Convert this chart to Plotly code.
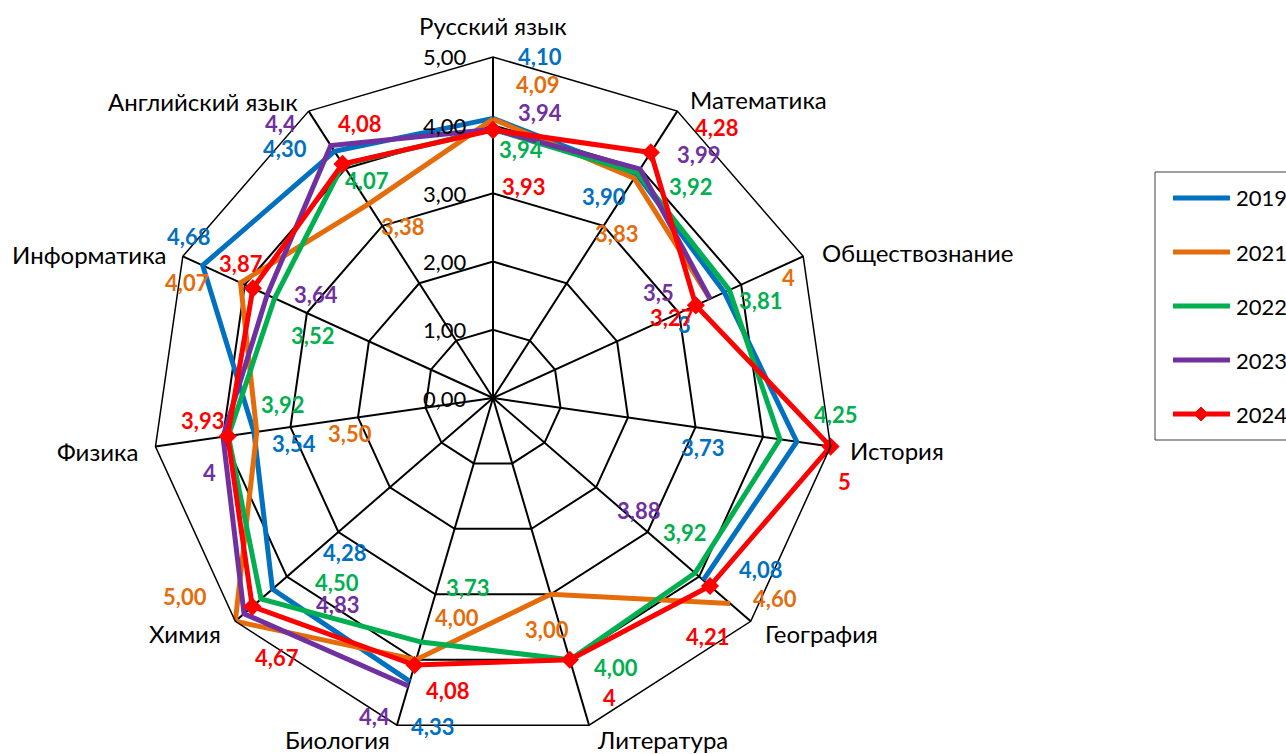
import plotly.graph_objects as go

# ---- data -------------------------------------------------------------
categories = ["Русский язык", "Математика", "Обществознание", "История", "География",
              "Литература", "Биология", "Химия", "Физика", "Информатика", "Английский язык"]

years = ["2019", "2021", "2022", "2023", "2024"]
colors = ["#0070C0", "#E46C0A", "#00B050", "#7030A0", "#FF0000"]

# average marks per subject (None = no result that year)
v2019 = [4.10, 3.90, 3.73, 4.50, 4.08, None, 4.33, 4.28, 3.54, 4.68, 4.30]
v2021 = [4.09, 3.83, 3.50, None, 4.60, 3.00, 4.00, 5.00, 3.50, 4.07, 3.38]
v2022 = [3.94, 3.92, 3.81, 4.25, 3.92, 4.00, 3.73, 4.50, 3.92, 3.52, 4.07]
v2023 = [3.94, 3.99, 3.50, None, 3.88, None, 4.40, 4.83, 4.00, 3.64, 4.40]
v2024 = [3.93, 4.28, 3.27, 5.00, 4.21, 4.00, 4.08, 4.67, 3.93, 3.87, 4.08]
series = [v2019, v2021, v2022, v2023, v2024]

# data-label texts as printed on the sheet (None = no label)
t2019 = ["4,10", "3,90", "3", "3,73", "4,08", None, "4,33", "4,28", "3,54", "4,68", "4,30"]
t2021 = ["4,09", "3,83", "4", None, "4,60", "3,00", "4,00", "5,00", "3,50", "4,07", "3,38"]
t2022 = ["3,94", "3,92", "3,81", "4,25", "3,92", "4,00", "3,73", "4,50", "3,92", "3,52", "4,07"]
t2023 = ["3,94", "3,99", "3,5", None, "3,88", None, "4,4", "4,83", "4", "3,64", "4,4"]
t2024 = ["3,93", "4,28", "3,27", "5", "4,21", "4", "4,08", "4,67", "3,93", "3,87", "4,08"]
label_texts = [t2019, t2021, t2022, t2023, t2024]

# hand-placed data-label centres (px) for each series, in category order
p2019 = [(540, 57), (604, 196), (684, 324), (702, 447), (761, 569), None,
         (432, 726), (344, 552), (294, 443), (188, 236), (285, 149)]
p2021 = [(537, 84), (616, 234), (788, 277), None, (775, 598), (547, 629),
         (457, 617), (185, 596), (350, 433), (187, 282), (402, 226)]
p2022 = [(521, 150), (690, 186), (761, 301), (835, 414), (684, 532), (616, 667),
         (467, 587), (337, 582), (282, 404), (312, 335), (367, 181)]
p2023 = [(540, 112), (699, 154), (658, 292), None, (638, 510), None,
         (374, 716), (337, 604), (209, 472), (316, 294), (280, 123)]
p2024 = [(523, 186), (716, 127), (672, 317), (844, 481), (707, 636), (609, 697),
         (447, 690), (277, 657), (202, 421), (241, 263), (359, 124)]
label_pos = [p2019, p2021, p2022, p2023, p2024]

# category caption anchors (px) and horizontal alignment
cat_pos = [(493, 26, "center"), (688, 100, "left"), (820, 252, "left"), (848, 450, "left"),
           (763, 633, "left"), (595, 739, "left"), (392, 739, "right"), (223, 633, "right"),
           (140, 451, "right"), (168, 254, "right"), (300, 101, "right")]

radial_ticks = [0, 1, 2, 3, 4, 5]

# ---- geometry ---------------------------------------------------------
W, H = 1286, 754
CX, CY, R = 493, 398, 341          # centre and outer radius of the radar, px
RMAX = 5
FONT = "Lato"


def px(x):
    return x / W


def py(y):
    return 1 - y / H


fig = go.Figure()

for name, vals, color in zip(years, series, colors):
    last = name == years[-1]
    fig.add_trace(go.Scatterpolar(
        r=vals + [vals[0]],
        theta=categories + [categories[0]],
        mode="lines+markers" if last else "lines",
        line=dict(color=color, width=5),
        marker=dict(symbol="diamond", size=14, color=color),
        connectgaps=False,
        showlegend=False,
        name=name,
        hoverinfo="skip",
    ))

annotations = []

# category captions around the outer ring
for cat, (x, y, align) in zip(categories, cat_pos):
    annotations.append(dict(
        x=px(x), y=py(y), xref="paper", yref="paper", text=cat, showarrow=False,
        xanchor=align, yanchor="middle",
        font=dict(family=FONT, size=24, color="black"),
    ))

# radial scale labels, left of the vertical spoke
for t in radial_ticks:
    annotations.append(dict(
        x=px(CX - 24), y=py(CY - t * R / RMAX), xref="paper", yref="paper",
        text=f"{t:.2f}".replace(".", ","), showarrow=False,
        xanchor="right", yanchor="middle",
        font=dict(family=FONT, size=22, color="black"),
    ))

# data labels
for texts, positions, color in zip(label_texts, label_pos, colors):
    for txt, pos in zip(texts, positions):
        if txt is None or pos is None:
            continue
        annotations.append(dict(
            x=px(pos[0]), y=py(pos[1]), xref="paper", yref="paper",
            text=f"<b>{txt}</b>", showarrow=False,
            xanchor="center", yanchor="middle",
            font=dict(family=FONT, size=22, color=color),
        ))

# legend, drawn by hand
shapes = []
LX0, LY0, LX1, LY1 = 1155, 172, 1300, 440
shapes.append(dict(type="rect", xref="paper", yref="paper",
                   x0=px(LX0), x1=px(LX1), y0=py(LY1), y1=py(LY0),
                   line=dict(color="#404040", width=1), fillcolor="white", layer="below"))
for i, (name, color) in enumerate(zip(years, colors)):
    yy = 198 + i * 54
    shapes.append(dict(type="line", xref="paper", yref="paper",
                       x0=px(1173), x1=px(1230), y0=py(yy), y1=py(yy),
                       line=dict(color=color, width=5)))
    if name == years[-1]:
        d = 7
        cx = 1201
        shapes.append(dict(type="path", xref="paper", yref="paper",
                           path=f"M {px(cx - d)} {py(yy)} L {px(cx)} {py(yy - d)} "
                                f"L {px(cx + d)} {py(yy)} L {px(cx)} {py(yy + d)} Z",
                           fillcolor=color, line=dict(color=color, width=1)))
    annotations.append(dict(
        x=px(1234), y=py(yy), xref="paper", yref="paper", text=name,
        showarrow=False, xanchor="left", yanchor="middle",
        font=dict(family=FONT, size=22, color="black"),
    ))

fig.update_layout(
    width=W, height=H,
    margin=dict(l=0, r=0, t=0, b=0),
    paper_bgcolor="white",
    plot_bgcolor="white",
    showlegend=False,
    polar=dict(
        domain=dict(x=[px(CX - R), px(CX + R)], y=[py(CY + R), py(CY - R)]),
        bgcolor="white",
        gridshape="linear",
        radialaxis=dict(range=[0, RMAX], dtick=1, showticklabels=False, ticks="",
                        showline=False, gridcolor="black", gridwidth=1.5),
        angularaxis=dict(direction="clockwise", rotation=90, type="category",
                         categoryorder="array", categoryarray=categories,
                         showticklabels=False,
                         showline=True, linecolor="black", linewidth=1.5,
                         gridcolor="black", gridwidth=1.5, ticks=""),
    ),
    annotations=annotations,
    shapes=shapes,
)

fig.write_html("out.html")
